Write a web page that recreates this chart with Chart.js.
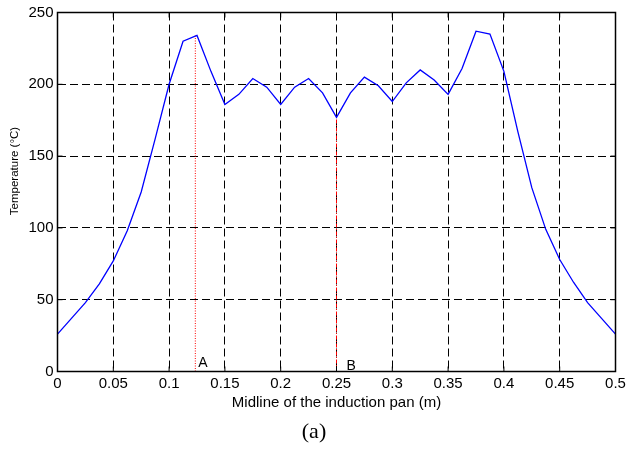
<!DOCTYPE html>
<html>
<head>
<meta charset="utf-8">
<script src="https://cdn.jsdelivr.net/npm/chart.js@4"></script>
<style>
  html, body { margin: 0; padding: 0; background: #fff; }
  #grafico { display: block; }
</style>
</head>
<body>
<canvas id="grafico" width="626" height="450"></canvas>
<script>
// Dados
const posicao = [0, 0.0125, 0.025, 0.0375, 0.05, 0.0625, 0.075, 0.0875, 0.1, 0.1125,
  0.125, 0.1375, 0.15, 0.1625, 0.175, 0.1875, 0.2, 0.2125, 0.225, 0.2375,
  0.25, 0.2625, 0.275, 0.2875, 0.3, 0.3125, 0.325, 0.3375, 0.35, 0.3625,
  0.375, 0.3875, 0.4, 0.4125, 0.425, 0.4375, 0.45, 0.4625, 0.475, 0.4875, 0.5];
const temperatura = [26, 37, 48, 61, 77, 98, 125, 162, 200, 230,
  234, 209, 186, 193, 204, 198, 186, 198, 204, 194,
  177, 194, 205, 199, 188, 201, 210, 203, 193, 211,
  237, 235, 209, 167, 128, 99, 78, 62, 48, 37, 26];

// Linhas verticais A e B
const marcadores = ["A", "B"];
const marcadorX = [0.1235, 0.25];
const marcadorTopo = [234, 177];

const tituloX = "Midline of the induction pan (m)";
const tituloY = "Temperature (°C)";
const legendaFigura = "(a)";

const fonte = "'Liberation Sans', Arial, sans-serif";

// 🔹 Caixa, marcas internas e textos extras
const extras = {
  id: "extras",
  afterDatasetsDraw(chart) {
    const { ctx, chartArea: a, scales } = chart;
    ctx.save();
    ctx.strokeStyle = "#000";
    ctx.lineWidth = 1;
    ctx.setLineDash([]);
    ctx.beginPath();
    scales.x.ticks.forEach(t => {
      const px = scales.x.getPixelForValue(t.value);
      ctx.moveTo(px, a.bottom); ctx.lineTo(px, a.bottom - 5);
      ctx.moveTo(px, a.top); ctx.lineTo(px, a.top + 5);
    });
    scales.y.ticks.forEach(t => {
      const py = scales.y.getPixelForValue(t.value);
      ctx.moveTo(a.left, py); ctx.lineTo(a.left + 5, py);
      ctx.moveTo(a.right, py); ctx.lineTo(a.right - 5, py);
    });
    ctx.stroke();
    ctx.lineWidth = 1.5;
    ctx.strokeRect(a.left, a.top, a.right - a.left, a.bottom - a.top);
    ctx.restore();
  },
  afterDraw(chart) {
    const { ctx, chartArea: a, scales } = chart;
    ctx.save();
    ctx.fillStyle = "#000";

    // letras A e B
    ctx.font = "14px " + fonte;
    ctx.textAlign = "left";
    ctx.textBaseline = "bottom";
    const desloc = [3, 10];
    const base = [a.bottom - 1, a.bottom + 2];
    marcadores.forEach((m, i) => {
      ctx.fillText(m, scales.x.getPixelForValue(marcadorX[i]) + desloc[i], base[i]);
    });

    // título do eixo Y
    ctx.font = "11.5px " + fonte;
    ctx.textAlign = "center";
    ctx.textBaseline = "middle";
    ctx.translate(15, 171);
    ctx.rotate(-Math.PI / 2);
    ctx.fillText(tituloY, 0, 0);
    ctx.setTransform(1, 0, 0, 1, 0, 0);

    // legenda (a)
    ctx.font = "22px 'Liberation Serif', 'Times New Roman', serif";
    ctx.textBaseline = "alphabetic";
    ctx.fillText(legendaFigura, 314, 438);
    ctx.restore();
  }
};

const conjuntos = [{
  data: posicao.map((x, i) => ({ x, y: temperatura[i] })),
  borderColor: "#0000ff",
  borderWidth: 1.3,
  pointRadius: 0,
  tension: 0
}];
const tracos = [[1, 1.5], [4, 1.5, 1, 1.5]];
marcadores.forEach((m, i) => {
  conjuntos.push({
    data: [{ x: marcadorX[i], y: 0 }, { x: marcadorX[i], y: marcadorTopo[i] }],
    borderColor: "#ff0000",
    borderWidth: 1,
    borderDash: tracos[i],
    pointRadius: 0
  });
});

const grafico = new Chart(document.getElementById("grafico"), {
  type: "line",
  data: { datasets: conjuntos },
  plugins: [extras],
  options: {
    responsive: false,
    animation: false,
    layout: { padding: { left: 0, top: 12.5, right: 10.5, bottom: 0 } },
    plugins: { legend: { display: false }, tooltip: { enabled: false } },
    scales: {
      x: {
        type: "linear",
        min: 0,
        max: 0.5,
        afterFit: s => { s.height = 78.5; s.paddingLeft = 0; s.paddingRight = 0; },
        ticks: {
          stepSize: 0.05,
          padding: 3.5,
          color: "#000",
          font: { family: fonte, size: 15 },
          maxRotation: 0,
          callback: v => String(Number(v.toFixed(2)))
        },
        grid: { color: "#000", lineWidth: 1, drawTicks: false },
        border: { display: false, dash: [8, 4] },
        title: {
          display: true,
          text: tituloX,
          color: "#000",
          font: { family: fonte, size: 15 },
          padding: { top: 0, bottom: 38 }
        }
      },
      y: {
        min: 0,
        max: 250,
        afterFit: s => { s.width = 57.5; s.paddingTop = 0; s.paddingBottom = 0; },
        ticks: {
          stepSize: 50,
          padding: 4,
          color: "#000",
          font: { family: fonte, size: 15 }
        },
        grid: { color: "#000", lineWidth: 1, drawTicks: false },
        border: { display: false, dash: [8, 4] }
      }
    }
  }
});
</script>
</body>
</html>
